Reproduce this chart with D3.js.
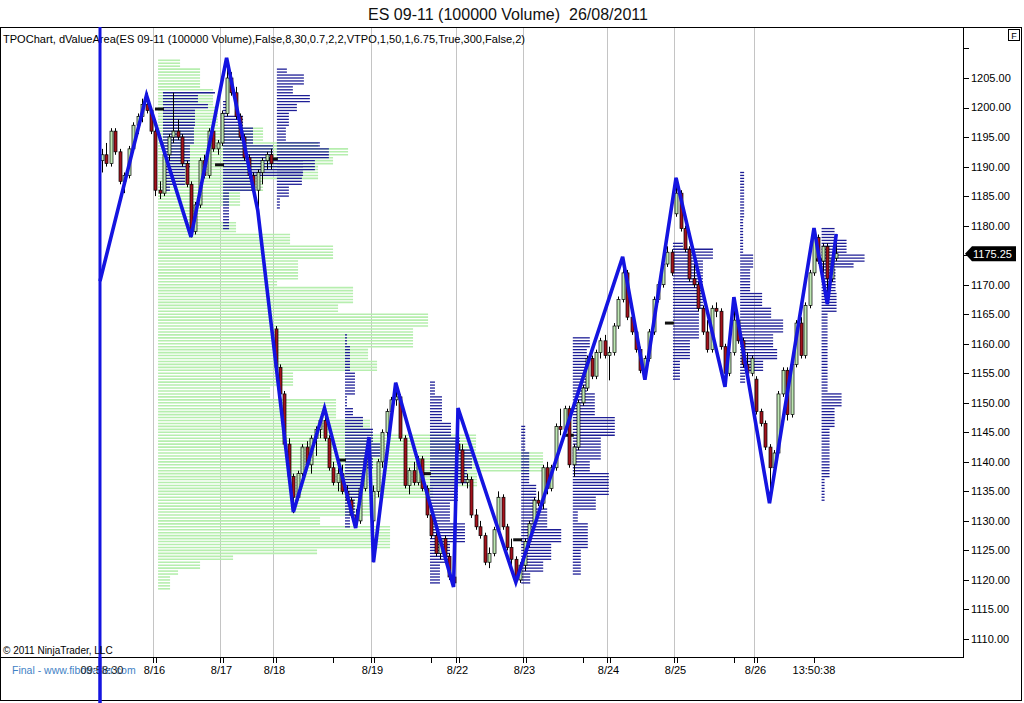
<!DOCTYPE html>
<html><head><meta charset="utf-8">
<script src="https://cdn.jsdelivr.net/npm/d3@7/dist/d3.min.js"></script>
<style>html,body{margin:0;padding:0;background:#fff;}svg{display:block;font-family:"Liberation Sans",Arial,sans-serif;}</style>
</head><body><svg id="c" width="1024" height="703"></svg>
<script>
// ---------- DATA ----------
const title = "ES 09-11 (100000 Volume)  26/08/2011";
const header = "TPOChart, dValueArea(ES 09-11 (100000 Volume),False,8,30,0.7,2,2,VTPO,1,50,1,6.75,True,300,False,2)";
// candles: [open, high, low, close]
const candles = [
[1191,1193,1189,1192],[1192,1194,1190,1190.5],[1190.5,1196.5,1190,1196],[1196,1196.5,1192,1192.5],[1192.5,1193,1187,1187.5],
[1187.5,1189,1185.5,1188.5],[1188.5,1193.5,1188,1193],[1193,1197.5,1192.5,1197],[1197,1199,1195.5,1198.5],[1198.5,1201.5,1197.5,1200.5],
[1200.5,1202.5,1199,1199.5],[1199.5,1200,1195.5,1196],[1196,1196.5,1185,1186],[1186,1187.5,1184.5,1185.5],[1185.5,1192.5,1185,1192],
[1192,1195.5,1191,1195],[1195,1202.5,1194,1196],[1196,1198,1194.5,1195],[1195,1195.5,1190,1190.5],[1190.5,1191,1186.5,1187],
[1187,1187.5,1178,1179],[1179,1184,1178.5,1183.5],[1183.5,1191.5,1183,1191],[1191,1192,1188,1188.5],[1188.5,1196.5,1188,1196],
[1196,1196.5,1192.5,1193],[1193,1194.5,1192,1194],[1194,1199.5,1193.5,1199],[1199,1208.4,1198.5,1205],[1205,1206,1202,1202.5],
[1202.5,1203.5,1198,1198.5],[1198.5,1199,1194.5,1195],[1195,1195.5,1191,1191.5],[1191.5,1192,1188,1188.5],[1188.5,1189,1185.5,1186],
[1186,1189.5,1182.5,1189],[1189,1191.5,1187,1191],[1191,1192.5,1189.5,1192],[1192,1193,1189.5,1190.5],[1162.5,1163,1155.5,1156],
[1156,1156.5,1151,1151.5],[1151.5,1152,1142.5,1143],[1143,1144,1137,1137.5],[1137.5,1138,1131.3,1134],[1134,1138.5,1133.5,1138],
[1138,1143,1137.5,1142.5],[1142.5,1143.5,1139,1139.5],[1139.5,1144.5,1138,1144],[1144,1146,1141,1145.5],[1145.5,1147.5,1144,1147],
[1147,1149.1,1143.5,1144],[1144,1144.5,1138.5,1139],[1139,1140,1136,1136.5],[1136.5,1139,1135,1138],[1138,1139.5,1134.5,1135],
[1135,1136,1133,1133.5],[1133.5,1134,1130.5,1131],[1131,1132,1128.8,1130],[1130,1136,1129.5,1135.5],[1135.5,1141,1135,1140.5],
[1140.5,1144.2,1139.5,1141],[1130,1136,1123,1135],[1135,1140.5,1134,1140],[1140,1145.5,1139,1145],[1145,1149,1144,1148.5],
[1148.5,1151,1147.5,1150.5],[1150.5,1153.4,1149.5,1151],[1151,1151.5,1143.5,1144],[1144,1144.5,1135.5,1136],[1136,1139,1134.5,1138.5],
[1138.5,1140,1136,1136.5],[1136.5,1141,1136,1140.5],[1140.5,1141,1135,1135.5],[1135.5,1136,1130.5,1131],[1131,1131.5,1127,1127.5],
[1127.5,1129,1124,1124.5],[1124.5,1127.5,1123.5,1127],[1127,1127.5,1123.5,1124],[1124,1124.5,1120,1120.5],[1120.5,1122,1118.8,1119.5],
[1143,1149.1,1141.5,1142],[1142,1143,1136,1136.5],[1136.5,1138,1135.5,1137],[1137,1137.5,1130.5,1131],[1131,1132,1128.5,1129],
[1129,1130,1127,1127.5],[1127.5,1128,1122.5,1123],[1123,1125.5,1122,1124.5],[1124.5,1129,1124,1128.5],[1128.5,1135,1128,1134],
[1134,1134.5,1128.5,1129],[1129,1129.5,1125,1125.5],[1125.5,1127,1122.5,1123.5],[1123.5,1124,1119.4,1120],[1120,1123,1119.5,1122.5],
[1122.5,1127,1121.5,1126.5],[1126.5,1130,1125.5,1129.5],[1129.5,1134,1129,1133.5],[1133.5,1135,1132.5,1133],[1133,1139.5,1132,1139],
[1139,1140,1134.5,1135.5],[1135.5,1139.5,1135,1139],[1139,1146.5,1138.5,1146],[1146,1149,1144.5,1145.5],[1145.5,1149.5,1145,1149],
[1149,1149.5,1139,1139.5],[1139.5,1143,1137.5,1142.5],[1142.5,1150.5,1142,1150],[1150,1153,1149.5,1152.5],[1152.5,1158,1152,1157.5],
[1157.5,1158,1154,1154.5],[1154.5,1159,1154,1158.5],[1158.5,1161,1157.5,1160.5],[1160.5,1161.5,1157.5,1158],[1158,1159.5,1153.8,1158.5],
[1158.5,1163.5,1158,1163],[1163,1168,1162.5,1167.5],[1167.5,1174.7,1167,1172],[1172,1172.5,1164,1164.5],[1164.5,1165,1161.5,1162],
[1162,1163,1158.5,1159],[1159,1159.5,1155,1155.5],[1155.5,1158,1153.9,1157.5],[1157.5,1162.5,1157,1162],[1162,1168,1161.5,1167.5],
[1167.5,1170.5,1167,1170],[1170,1174,1169.5,1173.5],[1173.5,1176.5,1173,1175.5],[1175.5,1176,1171.5,1172],[1182,1188.1,1181.5,1185.5],
[1185.5,1186,1179,1179.5],[1179.5,1180,1175.5,1176],[1176,1176.5,1170.5,1171],[1171,1173.5,1169.5,1170],[1170,1170.5,1165.5,1166],
[1166,1166.5,1161.5,1162],[1162,1164,1158.5,1159],[1159,1166.5,1158.5,1166],[1166,1167,1164.5,1165.5],[1165.5,1166,1159,1159.5],
[1159.5,1160,1152.7,1155],[1155,1159,1154.5,1158.5],[1158.5,1167.9,1158,1164],[1164,1164.5,1160,1160.5],[1160.5,1161,1156,1156.5],
[1156.5,1158.5,1154.5,1155],[1155,1158,1154.5,1157.5],[1154,1154.5,1148,1148.5],[1148.5,1149,1146,1146.5],[1146.5,1147,1142,1142.5],
[1142.5,1143,1133,1139],[1139,1142,1138.5,1141.5],[1141.5,1152,1141,1151.5],[1151.5,1156,1151,1155.5],[1155.5,1156,1147,1148],
[1148,1157,1147.5,1156.5],[1156.5,1164,1156,1163.5],[1163.5,1164.5,1157.5,1158],[1158,1167,1157.5,1166.5],[1166.5,1172.5,1166,1172],
[1172,1179.6,1171.5,1178],[1178,1178.5,1173.5,1174],[1174,1177,1172,1176.5],[1176.5,1177,1166.7,1171],[1171,1175,1170.5,1174.5],
[1174.5,1178.6,1174,1175.25]
];
// zigzag swing points: [bar index, price]
const zigzag = [[-0.45,1170.6],[10,1202.1],[20,1178.1],[28,1208.4],[35,1182.6],[43,1131.5],[50,1149.1],[57,1128.8],[60,1144.2],[61,1123],[66,1153.4],[79,1118.8],[80,1149.1],[93,1119.6],[117,1174.7],[122,1153.9],[129,1188.1],[140,1152.7],[142,1167.9],[150,1133],[160,1179.6],[163,1166.7],[165,1178.6]];
// session start bars and their labels
const sessionStarts = [12,27,39,61,80,95,114,129,147];
const sessionLabels = ["8/16","8/17","8/18","8/19","8/22","8/23","8/24","8/25","8/26"];
const minorTickBars = [52,74,108,142];
const firstTime = "09:58:30", lastTime = "13:50:38";
const priceTicks = [1110,1115,1120,1125,1130,1135,1140,1145,1150,1155,1160,1165,1170,1175,1180,1185,1190,1195,1200,1205,1210];
const lastPrice = 1175.25;
// composite volume profile: [price high, price low, volume]
const greenAnchor = 12.6;
const greenProfile = [[1208,1206.5,22],[1206.5,1203,42],[1203,1200,55],[1200,1196.5,60],[1196.5,1194,105],[1194,1193,160],[1193,1191.5,190],[1191.5,1190,175],[1190,1187.5,160],[1187.5,1185.5,105],[1185.5,1183,82],[1183,1180.5,62],[1180.5,1178.5,78],[1178.5,1176.5,132],[1176.5,1174,175],[1174,1170.5,140],[1170.5,1169.5,119],[1169.5,1166.5,195],[1166.5,1165,180],[1165,1162.5,270],[1162.5,1159,255],[1159,1157,210],[1157,1155,219],[1155,1152.5,135],[1152.5,1150.5,112],[1150.5,1147,178],[1147,1144.5,212],[1144.5,1141.5,318],[1141.5,1138,385],[1138,1135.5,319],[1135.5,1133.5,275],[1133.5,1130.5,212],[1130.5,1129,162],[1129,1125,232],[1125,1124,159],[1124,1123,75],[1123,1121.5,42],[1121.5,1120.5,20],[1120.5,1118,12]];
// daily TPO profiles: [price high, price low, count]
const tpoA = [[1202.5,1202,52],[1202,1200.5,35],[1200.5,1199.5,45],[1199.5,1196.5,32],[1196.5,1193.5,31],[1193.5,1189.5,27],[1189.5,1186.5,22],[1186.5,1185.5,7]];
const tpoB = [[1201,1198.5,5],[1198.5,1196.5,20],[1196.5,1193.5,30],[1193.5,1191,50],[1191,1188,80],[1188,1185.5,30],[1185.5,1179,6]];
const tpoC = [[1206.5,1205.5,10],[1205.5,1203.5,27],[1203.5,1202,16],[1202,1200.5,33],[1200.5,1199,20],[1199,1196.5,12],[1196.5,1194,9],[1194,1193,43],[1193,1191,52],[1191,1189,38],[1189,1186.5,25],[1186.5,1184.5,12],[1184.5,1182.5,3]];
const tpoD = [[1161.5,1159.5,2],[1159.5,1155,5],[1155,1151,10],[1151,1149.3,2],[1149.3,1147.5,8],[1147.5,1145.5,18],[1145.5,1143.2,28],[1143.2,1140.8,35],[1140.8,1138.6,28],[1138.6,1135.7,22],[1135.7,1133.5,15],[1133.5,1130.7,10],[1130.7,1128.5,5]];
const tpoE = [[1153.5,1151,5],[1151,1146.6,12],[1146.6,1144.2,21],[1144.2,1142,30],[1142,1138.6,42],[1138.6,1136.4,37],[1136.4,1133,28],[1133,1129.6,20],[1129.6,1126.2,35],[1126.2,1122.9,20],[1122.9,1119,10]];
const tpoF = [[1146,1141.5,4],[1141.5,1136.4,8],[1136.4,1132,15],[1132,1128.6,26],[1128.6,1126,40],[1126,1123.4,30],[1123.4,1121,22],[1121,1119,9]];
const tpoG = [[1161,1159,17],[1159,1151.7,14],[1151.7,1147.6,22],[1147.6,1144.2,42],[1144.2,1140.3,28],[1140.3,1138.1,17],[1138.1,1134,36],[1134,1131.8,23],[1131.8,1129.6,5],[1129.6,1125,15],[1125,1120.8,8]];
const tpoH = [[1177,1176,10],[1176,1174.2,40],[1174.2,1172.5,30],[1172.5,1168.6,30],[1168.6,1165.7,30],[1165.7,1160.6,26],[1160.6,1157.2,17],[1157.2,1153.8,7]];
const tpoI = [[1189,1181,4],[1181,1175.4,3],[1175.4,1172.5,13],[1172.5,1168.6,10],[1168.6,1166.2,22],[1166.2,1164,31],[1164,1161.8,43],[1161.8,1159.4,33],[1159.4,1157.2,37],[1157.2,1155,23],[1155,1153.4,5]];
const tpoJ = [[1179.8,1177.6,13],[1177.6,1175.4,25],[1175.4,1173.7,43],[1173.7,1172.5,32],[1172.5,1168.6,14],[1168.6,1165.2,15],[1165.2,1151.7,6],[1151.7,1149.3,20],[1149.3,1145.9,13],[1145.9,1137.4,8],[1137.4,1133,3]];
const tpoAnchors = [13.7,27.2,39.3,54.6,73.7,94.2,105.8,128.3,143.4,161.7];
const tpoPocs = [1199.75,1190.3,1191.3,1140.3,1138,1126.8,1144.5,1163.5,null,1174.2];
const tpoList = [tpoA,tpoB,tpoC,tpoD,tpoE,tpoF,tpoG,tpoH,tpoI,tpoJ];

// ---------- CHART ----------
const svg = d3.select("#c");
const PL = 0, PT = 27, PR = 963, PB = 657;
const x = d3.scaleLinear().domain([0, candles.length - 1]).range([102, 836.25]);
const y = d3.scaleLinear().domain([1110, 1205]).range([639, 78]);
const vol = d3.scaleLinear().domain([0, 100]).range([0, 100]);

svg.append("rect").attr("width",1024).attr("height",703).attr("fill","#fff");
svg.append("text").attr("x",508).attr("y",20).attr("text-anchor","middle").style("white-space","pre")
  .attr("font-size",16).attr("fill","#111").attr("textLength",280).attr("lengthAdjust","spacingAndGlyphs").text(title);

svg.append("defs").append("clipPath").attr("id","pc").append("rect")
  .attr("x",PL+1).attr("y",PT+1).attr("width",PR-PL-1).attr("height",PB-PT-1);
const g = svg.append("g").attr("clip-path","url(#pc)");

// session separators
g.selectAll("line.sep").data(sessionStarts).join("line").attr("class","sep")
  .attr("x1",d=>Math.round(x(d-0.5))+0.5).attr("x2",d=>Math.round(x(d-0.5))+0.5)
  .attr("y1",PT).attr("y2",PB).attr("stroke","#c4c4c4").attr("stroke-width",1);

function levels(prof){
  const out=[];
  prof.forEach(([hi,lo,v])=>{ for(let p=Math.floor(hi*2)/2; p>lo+1e-9; p-=0.5) out.push([p,v]); });
  return out;
}
// green composite profile
g.append("g").selectAll("line").data(levels(greenProfile)).join("line")
  .attr("x1",x(greenAnchor)).attr("x2",d=>x(greenAnchor)+vol(d[1]))
  .attr("y1",d=>y(d[0])).attr("y2",d=>y(d[0]))
  .attr("stroke","#b6eeae").attr("stroke-width",1.6);

// blue TPO profiles
tpoList.forEach((prof,k)=>{
  const x0 = x(tpoAnchors[k]);
  g.append("g").selectAll("line").data(levels(prof)).join("line")
    .attr("x1",x0).attr("x2",d=>x0+vol(d[1]))
    .attr("y1",d=>y(d[0])).attr("y2",d=>y(d[0]))
    .attr("stroke","#1e1e96").attr("stroke-width",1.3);
  if(tpoPocs[k]!==null){
    g.append("line").attr("x1",x0-8).attr("x2",x0+1).attr("y1",y(tpoPocs[k])).attr("y2",y(tpoPocs[k]))
      .attr("stroke","#111").attr("stroke-width",3);
  }
});

// candles
const cg = g.append("g");
cg.selectAll("line.w").data(candles).join("line").attr("class","w")
  .attr("x1",(d,i)=>Math.round(x(i))+0.5).attr("x2",(d,i)=>Math.round(x(i))+0.5)
  .attr("y1",d=>y(d[1])).attr("y2",d=>y(d[2])).attr("stroke","#000").attr("stroke-width",1);
cg.selectAll("rect.b").data(candles).join("rect").attr("class","b")
  .attr("x",(d,i)=>Math.round(x(i))-1).attr("width",3)
  .attr("y",d=>y(Math.max(d[0],d[3]))).attr("height",d=>Math.max(1,Math.abs(y(d[0])-y(d[3]))))
  .attr("fill",d=>d[3]>=d[0]?"#bfe8b4":"#a3121c").attr("stroke","#000").attr("stroke-width",0.7);

// zigzag
g.append("path").datum(zigzag)
  .attr("d",d3.line().x(d=>x(d[0])).y(d=>y(d[1])))
  .attr("fill","none").attr("stroke","#1414e0").attr("stroke-width",3.6).attr("stroke-linejoin","miter");

// header
svg.append("text").attr("x",3).attr("y",43).attr("font-size",11).attr("fill","#000")
  .attr("textLength",522).attr("lengthAdjust","spacingAndGlyphs").text(header);

// frames
svg.append("rect").attr("x",0.5).attr("y",PT+0.5).attr("width",1021).attr("height",673)
  .attr("fill","none").attr("stroke","#000").attr("stroke-width",1);
svg.append("line").attr("x1",0).attr("x2",PR).attr("y1",PB+0.5).attr("y2",PB+0.5).attr("stroke","#000");
svg.append("line").attr("x1",PR+0.5).attr("x2",PR+0.5).attr("y1",PT).attr("y2",PB+1).attr("stroke","#000");

// left blue marker line
svg.append("line").attr("x1",x(-0.45)).attr("x2",x(-0.45)).attr("y1",PT).attr("y2",703)
  .attr("stroke","#1414e0").attr("stroke-width",3);

// price axis
const ya = svg.append("g");
ya.selectAll("line").data(priceTicks).join("line")
  .attr("x1",PR).attr("x2",PR+6).attr("y1",d=>Math.round(y(d))+0.5).attr("y2",d=>Math.round(y(d))+0.5).attr("stroke","#000");
ya.selectAll("text").data(priceTicks.filter(p=>p<=1205 && p!==1175)).join("text")
  .attr("x",PR+8).attr("y",d=>y(d)).attr("dy","0.36em").attr("font-size",11).attr("fill","#000")
  .text(d=>d3.format(".2f")(d));
const ly = y(lastPrice);
svg.append("path").attr("d",`M${PR+2},${ly} L${PR+9},${ly-7.5} L1016,${ly-7.5} L1016,${ly+7.5} L${PR+9},${ly+7.5} Z`).attr("fill","#000");
svg.append("text").attr("x",PR+10).attr("y",ly).attr("dy","0.36em").attr("font-size",11).attr("fill","#fff").text(d3.format(".2f")(lastPrice));
svg.append("rect").attr("x",1008.5).attr("y",29.5).attr("width",11).attr("height",11).attr("fill","#fff").attr("stroke","#000");
svg.append("text").attr("x",1014).attr("y",38.5).attr("text-anchor","middle").attr("font-size",9).text("F");

// time axis
const xa = svg.append("g");
sessionStarts.forEach((s,k)=>{
  const xx = Math.round(x(s-0.5));
  [0,3].forEach(o=>xa.append("line").attr("x1",xx+o+0.5).attr("x2",xx+o+0.5).attr("y1",PB).attr("y2",PB+6).attr("stroke","#000"));
  xa.append("text").attr("x",xx+1.5).attr("y",674).attr("text-anchor","middle").attr("font-size",11).text(sessionLabels[k]);
});
minorTickBars.forEach(b=>xa.append("line").attr("x1",Math.round(x(b))+0.5).attr("x2",Math.round(x(b))+0.5).attr("y1",PB).attr("y2",PB+6).attr("stroke","#000"));
xa.append("line").attr("x1",Math.round(x(160))+0.5).attr("x2",Math.round(x(160))+0.5).attr("y1",PB).attr("y2",PB+6).attr("stroke","#000");
xa.append("text").attr("x",x(160)).attr("y",674).attr("text-anchor","middle").attr("font-size",11).text(lastTime);

svg.append("text").attr("x",12).attr("y",674).attr("font-size",10.5).attr("fill","#3f82c6").text("Final - www.fibotrader.com");
svg.append("text").attr("x",x(0)).attr("y",674).attr("text-anchor","middle").attr("font-size",11).attr("fill","#222").text(firstTime);
svg.append("text").attr("x",3).attr("y",654).attr("font-size",10).attr("fill","#000").text("\u00a9 2011 NinjaTrader, LLC");
// redraw marker line over bottom texts
svg.append("line").attr("x1",x(-0.45)).attr("x2",x(-0.45)).attr("y1",PB).attr("y2",703)
  .attr("stroke","#1414e0").attr("stroke-width",3);
</script></body></html>
